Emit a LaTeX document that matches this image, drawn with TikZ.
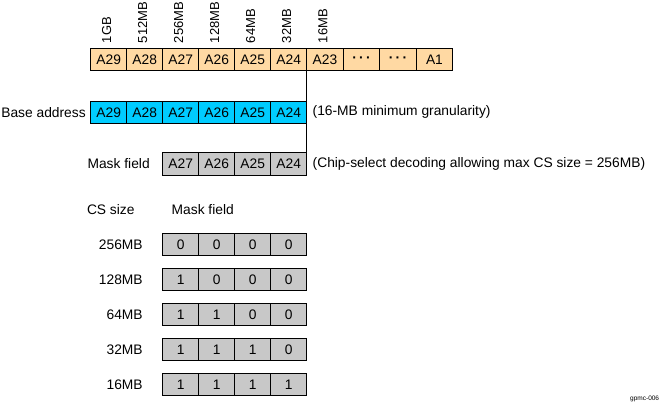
\documentclass[tikz,border=0pt]{standalone}
\usepackage{fontspec}
\setmainfont{Liberation Sans}
\definecolor{addrorange}{HTML}{FFD9A3}
\definecolor{addrblue}{HTML}{00CCFF}
\definecolor{maskgray}{HTML}{C8C8C8}
\newcommand{\labfont}{\fontsize{13.8}{16}\selectfont}
\newcommand{\rotfont}{\fontsize{13}{15}\selectfont}
\newcommand{\tinyfont}{\fontsize{6.5}{8}\selectfont}
\newcommand{\mydots}{\textbf{\textperiodcentered\,\textperiodcentered\,\textperiodcentered}}
\tikzset{
  cellbox/.style={draw=black, line width=0.9pt, minimum height=22.6pt, minimum width=36pt,
    inner sep=0pt, outer sep=0pt, anchor=north west, font=\labfont},
  orangecell/.style={cellbox, fill=addrorange},
  bluecell/.style={cellbox, fill=addrblue},
  graycell/.style={cellbox, fill=maskgray},
  txt/.style={font=\labfont, inner sep=0pt, outer sep=0pt},
  sizelab/.style={font=\rotfont, inner sep=0pt, outer sep=0pt, rotate=90, anchor=west},
}
\begin{document}
\begin{tikzpicture}[x=1pt,y=-1pt]
\useasboundingbox (0,0) rectangle (669,405);
% top address row
\foreach \i/\t in {1/A29,2/A28,3/A27,4/A26,5/A25,6/A24}{
  \node[orangecell] (t\i) at ({90.7+36*(\i-1)},48) {\t};
}
\foreach \i/\t in {7/A23,8/\mydots,9/\mydots,10/A1}{
  \node[orangecell, minimum width=36.5pt] (t\i) at ({306.7+36.5*(\i-7)},48) {\t};
}
% size labels
\foreach \i/\t in {1/1GB,2/512MB,3/256MB,4/128MB,5/64MB,6/32MB,7/16MB}{
  \node[sizelab] (s\i) at ([xshift=-2pt,yshift=5pt]t\i.north) {\t};
}
% base address row
\foreach \i/\t in {1/A29,2/A28,3/A27,4/A26,5/A25,6/A24}{
  \node[bluecell] (b\i) at ({90.7+36*(\i-1)},101) {\t};
}
\node[txt, anchor=east] (baselab) at ([xshift=-5pt]b1.west) {Base address};
\node[txt, anchor=west] (gran) at ([xshift=6pt]b6.east) {(16-MB minimum granularity)};
% mask field row
\foreach \i/\t in {1/A27,2/A26,3/A25,4/A24}{
  \node[graycell] (m\i) at ({162.7+36*(\i-1)},152.4) {\t};
}
\node[txt, anchor=east] (masklab) at ([xshift=-13pt]m1.west) {Mask field};
\node[txt, anchor=west] (chipsel) at ([xshift=6pt]m4.east) {(Chip-select decoding allowing max CS size = 256MB)};
% vertical separator
\draw[line width=1.3pt] (t6.north east) -- (m4.south east);
% table
\node[txt, anchor=west] (cshead) at (87,210) {CS size};
\node[txt, anchor=west] (mfhead) at (171.7,210) {Mask field};
\foreach \r/\lab/\a/\b/\c/\d in {0/256MB/0/0/0/0,1/128MB/1/0/0/0,2/64MB/1/1/0/0,3/32MB/1/1/1/0,4/16MB/1/1/1/1}{
  \node[graycell] (r\r c1) at (162.7,{233.3+35*\r}) {\a};
  \node[graycell] (r\r c2) at (198.7,{233.3+35*\r}) {\b};
  \node[graycell] (r\r c3) at (234.7,{233.3+35*\r}) {\c};
  \node[graycell] (r\r c4) at (270.7,{233.3+35*\r}) {\d};
  \node[txt, anchor=east] (rl\r) at ([xshift=-20pt]r\r c1.west) {\lab};
}
\node[font=\tinyfont, inner sep=0pt, anchor=west] (fig) at (630,399) {gpmc-006};
\end{tikzpicture}
\end{document}
